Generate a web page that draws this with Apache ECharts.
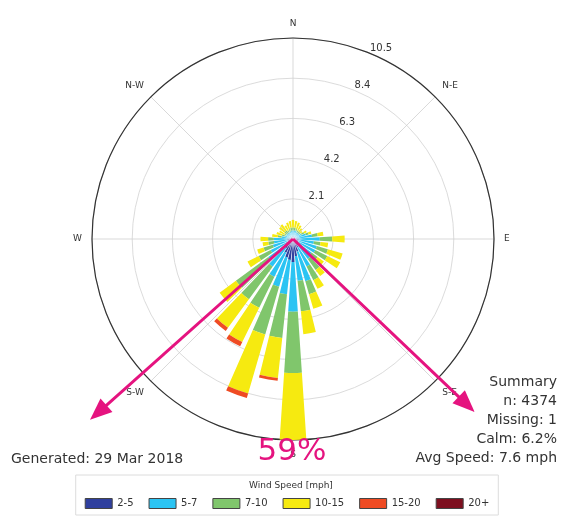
<!DOCTYPE html>
<html>
<head>
<meta charset="utf-8">
<script src="https://cdn.jsdelivr.net/npm/echarts@6/dist/echarts.min.js"></script>
<style>
  html, body { margin: 0; padding: 0; background: #fff; }
  #chart { width: 574px; height: 518px; }
</style>
</head>
<body>
<div id="chart"></div>
<script>
// wind direction bins (degrees, clockwise from north)
const directions = ['0', '10', '20', '30', '40', '50', '60', '70', '80', '90',
  '100', '110', '120', '130', '140', '150', '160', '170', '180', '190',
  '200', '210', '220', '230', '240', '250', '260', '270', '280', '290',
  '300', '310', '320', '330', '340', '350']
const compassLabels = ['N', 'N-E', 'E', 'S-E', 'S', 'S-W', 'W', 'N-W']
const speedBins = ['2-5', '5-7', '7-10', '10-15', '15-20', '20+']
const speedColors = ['#2f3f9e', '#2bc4f3', '#80c66c', '#f6ea10', '#ef4b23', '#7d0f1f']

// frequency (%) per direction, one array per speed bin
const speed2to5 = [0.15, 0.15, 0.15, 0.15, 0.15, 0.15, 0.15, 0.2, 0.2, 0.3,
  0.3, 0.3, 0.3, 0.3, 0.4, 0.5, 0.7, 0.9, 1.2, 1.1,
  1.0, 0.8, 0.6, 0.5, 0.4, 0.3, 0.3, 0.3, 0.2, 0.15,
  0.15, 0.15, 0.15, 0.15, 0.15, 0.15]
const speed5to7 = [0.3, 0.3, 0.3, 0.25, 0.25, 0.25, 0.35, 0.5, 0.8, 1.1,
  0.8, 1.0, 1.0, 0.9, 0.9, 1.1, 1.6, 1.3, 2.6, 1.8,
  1.6, 1.4, 1.2, 1.1, 0.9, 0.8, 0.7, 0.7, 0.4, 0.3,
  0.25, 0.25, 0.25, 0.25, 0.25, 0.3]
const speed7to10 = [0.15, 0.15, 0.1, 0.1, 0.1, 0.1, 0.15, 0.15, 0.3, 0.65,
  0.35, 0.6, 0.7, 0.4, 0.7, 0.8, 0.7, 1.6, 3.2, 2.3,
  2.6, 1.8, 2.1, 2.1, 0.7, 0.5, 0.3, 0.3, 0.2, 0.15,
  0.1, 0.15, 0.15, 0.1, 0.15, 0.15]
const speed10to15 = [0.4, 0.35, 0.35, 0.3, 0.2, 0.1, 0.15, 0.15, 0.3, 0.65,
  0.4, 0.8, 0.75, 0.4, 0.4, 0.5, 0.8, 1.2, 3.5, 2.1,
  3.2, 2.0, 1.85, 1.05, 0.65, 0.35, 0.3, 0.4, 0.3, 0.3,
  0.3, 0.35, 0.4, 0.3, 0.35, 0.35]
const speed15to20 = [0, 0, 0, 0, 0, 0, 0, 0, 0, 0,
  0, 0, 0, 0, 0, 0, 0, 0, 0, 0.15,
  0.25, 0.25, 0.2, 0, 0, 0, 0, 0, 0, 0,
  0, 0, 0, 0, 0, 0]
const speed20plus = [0, 0, 0, 0, 0, 0, 0, 0, 0, 0,
  0, 0, 0, 0, 0, 0, 0, 0, 0, 0,
  0, 0, 0, 0, 0, 0, 0, 0, 0, 0,
  0, 0, 0, 0, 0, 0]

const radiusMax = 10.5
const radiusStep = 2.1

// highlighted sector arrows: [length in %, bearing in degrees]
const arrowLeft = [14.2, 228.3]
const arrowRight = [13.1, 133.6]
const sectorShare = '59%'

const summaryLines = ['Summary', 'n: 4374', 'Missing: 1', 'Calm: 6.2%', 'Avg Speed: 7.6 mph']
const generatedText = 'Generated: 29 Mar 2018'

const center = [293, 239]
const radius = 201
const pink = '#e5137f'
const font = 'DejaVu Sans'

const chart = echarts.init(document.getElementById('chart'))

const seriesData = [speed2to5, speed5to7, speed7to10, speed10to15, speed15to20, speed20plus]

const option = {
  animation: false,
  textStyle: { fontFamily: font },
  polar: [
    { center: center, radius: radius },
    { center: center, radius: radius },
    { center: center, radius: radius },
  ],
  angleAxis: [
    {
      polarIndex: 0,
      type: 'value',
      min: 0,
      max: 360,
      interval: 45,
      startAngle: 90,
      clockwise: true,
      axisLine: { lineStyle: { color: '#333', width: 1.2 } },
      axisTick: { show: false },
      axisLabel: {
        margin: 10,
        fontSize: 9,
        color: '#333',
        formatter: (v) => compassLabels[Math.round(v / 45)] || '',
      },
      splitLine: { lineStyle: { color: '#cfcfcf', width: 0.8 } },
    },
    {
      polarIndex: 1,
      type: 'category',
      data: directions,
      startAngle: 95,
      clockwise: true,
      show: false,
    },
    {
      polarIndex: 2,
      type: 'value',
      min: 0,
      max: 360,
      startAngle: 67.5,
      show: false,
    },
  ],
  radiusAxis: [
    {
      polarIndex: 0,
      min: 0,
      max: radiusMax,
      interval: radiusStep,
      axisLine: { show: false },
      axisTick: { show: false },
      axisLabel: { show: false },
      splitLine: { lineStyle: { color: '#d2d2d2', width: 0.8 } },
    },
    {
      polarIndex: 1,
      min: 0,
      max: radiusMax,
      show: false,
    },
    {
      polarIndex: 2,
      min: 0,
      max: radiusMax,
      interval: radiusStep,
      axisLine: { show: false },
      axisTick: { show: false },
      splitLine: { show: false },
      axisLabel: {
        fontSize: 10,
        color: '#333',
        margin: 0,
        align: 'left',
        verticalAlign: 'bottom',
        formatter: (v) => (v === 0 ? '' : v.toFixed(1)),
      },
    },
  ],
  legend: {
    data: speedBins,
    left: 'center',
    top: 475,
    icon: 'rect',
    itemWidth: 27,
    itemHeight: 10,
    itemGap: 15,
    padding: [23, 9, 6, 9],
    borderColor: '#dcdcdc',
    borderWidth: 1,
    itemStyle: { borderColor: '#444', borderWidth: 1 },
    textStyle: { fontSize: 10, color: '#333', fontFamily: font },
  },
  series: speedBins.map((name, i) => ({
    name: name,
    type: 'bar',
    coordinateSystem: 'polar',
    polarIndex: 1,
    stack: 'wind',
    barCategoryGap: '24%',
    itemStyle: { color: speedColors[i] },
    data: seriesData[i],
  })),
}

chart.setOption(option)

// annotation arrows through the polar scale
function toPixel(p) {
  let pt = null
  try { pt = chart.convertToPixel({ polarIndex: 0 }, p) } catch (e) { pt = null }
  if (!pt) {
    const r = p[0] / radiusMax * radius
    const a = p[1] * Math.PI / 180
    pt = [center[0] + r * Math.sin(a), center[1] - r * Math.cos(a)]
  }
  return pt
}

function arrow(p) {
  const c = toPixel([0, 0])
  const tip = toPixel(p)
  const dx = tip[0] - c[0]
  const dy = tip[1] - c[1]
  const len = Math.sqrt(dx * dx + dy * dy)
  const ux = dx / len
  const uy = dy / len
  const headLen = 22
  const headHalf = 9
  const bx = tip[0] - ux * headLen
  const by = tip[1] - uy * headLen
  return [
    {
      type: 'line',
      z: 100,
      shape: { x1: c[0], y1: c[1], x2: bx + ux * 2, y2: by + uy * 2 },
      style: { stroke: pink, lineWidth: 3 },
    },
    {
      type: 'polygon',
      z: 100,
      shape: {
        points: [tip, [bx - uy * headHalf, by + ux * headHalf], [bx + uy * headHalf, by - ux * headHalf]],
      },
      style: { fill: pink },
    },
  ]
}

const c0 = toPixel([0, 0])
const graphics = [
  {
    type: 'circle',
    z: 90,
    shape: { cx: c0[0], cy: c0[1], r: 10 },
    style: {
      fill: new echarts.graphic.RadialGradient(0.5, 0.5, 0.5, [
        { offset: 0, color: 'rgba(255,255,255,0.85)' },
        { offset: 1, color: 'rgba(255,255,255,0)' },
      ]),
    },
  },
  ...arrow(arrowLeft),
  ...arrow(arrowRight),
  {
    type: 'text',
    z: 100,
    x: 292,
    y: 452,
    style: {
      text: sectorShare,
      fill: pink,
      font: '31px "' + font + '"',
      align: 'center',
      verticalAlign: 'middle',
    },
  },
  {
    type: 'text',
    z: 100,
    x: 11,
    y: 459,
    style: {
      text: generatedText,
      fill: '#333',
      font: '14px "' + font + '"',
      align: 'left',
      verticalAlign: 'middle',
    },
  },
  {
    type: 'text',
    z: 100,
    x: 291,
    y: 486,
    style: {
      text: 'Wind Speed [mph]',
      fill: '#333',
      font: '9px "' + font + '"',
      align: 'center',
      verticalAlign: 'middle',
    },
  },
]

summaryLines.forEach((line, i) => {
  graphics.push({
    type: 'text',
    z: 100,
    x: 557,
    y: 382 + i * 19,
    style: {
      text: line,
      fill: '#333',
      font: '14px "' + font + '"',
      align: 'right',
      verticalAlign: 'middle',
    },
  })
})

chart.setOption({ graphic: graphics })
</script>
</body>
</html>
